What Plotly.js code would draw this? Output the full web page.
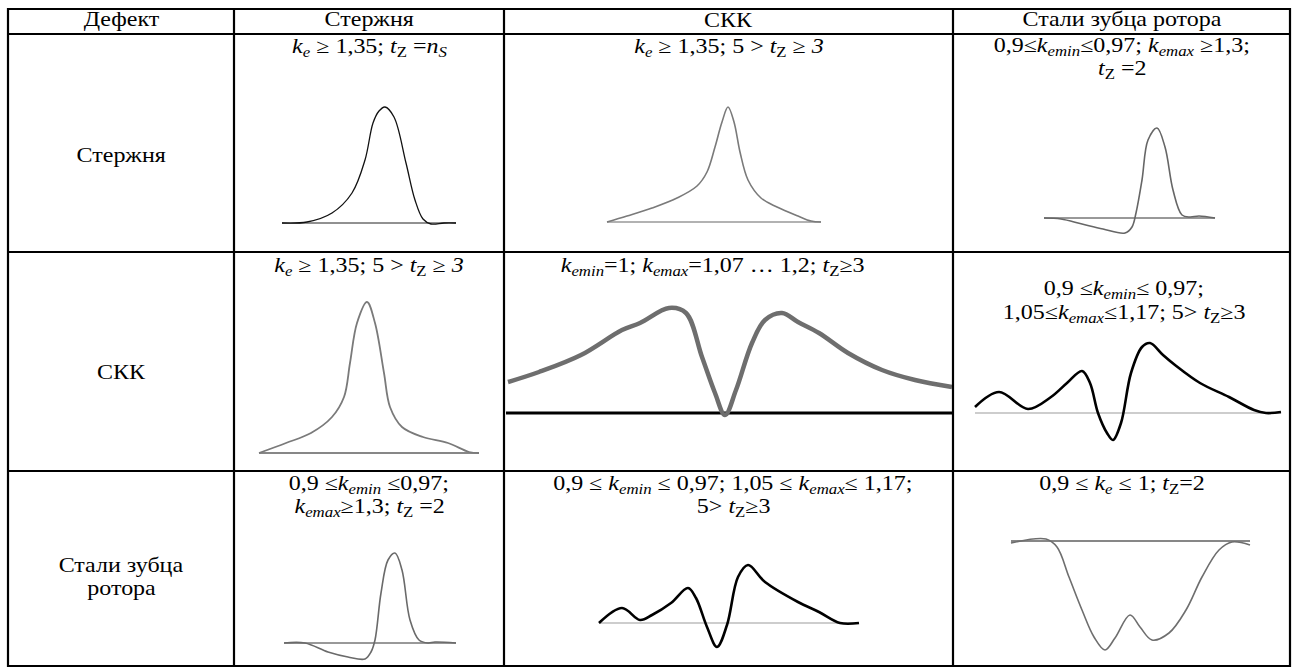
<!DOCTYPE html>
<html>
<head>
<meta charset="utf-8">
<script src="https://cdn.plot.ly/plotly-3.0.1.min.js"></script>
<style>html,body{margin:0;padding:0;background:#fff;}#chart{width:1294px;height:670px;}</style>
</head>
<body>
<div id="chart"></div>
<script>
// ---- table text ----
const colHeaders = ['Дефект', 'Стержня', 'СКК', 'Стали зубца ротора'];
const rowLabels = [['Стержня'], ['СКК'], ['Стали зубца', 'ротора']];
// condition text of each cell, one entry per line
const conditions = [
  [['<i>k<sub>e</sub></i> ≥ 1,35; <i>t</i><sub>Z</sub> =<i>n<sub>S</sub></i>'],
   ['<i>k<sub>e</sub></i> ≥ 1,35; 5 &gt; <i>t</i><sub>Z</sub> ≥ <i>3</i>'],
   ['0,9≤<i>k<sub>emin</sub></i>≤0,97; <i>k<sub>emax</sub></i> ≥1,3;', '<i>t</i><sub>Z</sub> =2']],
  [['<i>k<sub>e</sub></i> ≥ 1,35; 5 &gt; <i>t</i><sub>Z</sub> ≥ <i>3</i>'],
   ['<i>k<sub>emin</sub></i>=1; <i>k<sub>emax</sub></i>=1,07 … 1,2; <i>t</i><sub>Z</sub>≥3'],
   ['0,9 ≤<i>k<sub>emin</sub></i>≤ 0,97;', '1,05≤<i>k<sub>emax</sub></i>≤1,17; 5&gt; <i>t</i><sub>Z</sub>≥3']],
  [['0,9 ≤<i>k<sub>emin</sub></i> ≤0,97;', '<i>k<sub>emax</sub></i>≥1,3; <i>t</i><sub>Z</sub> =2'],
   ['0,9 ≤ <i>k<sub>emin</sub></i> ≤ 0,97; 1,05 ≤ <i>k<sub>emax</sub></i>≤ 1,17;', '5&gt; <i>t</i><sub>Z</sub>≥3'],
   ['0,9 ≤ <i>k<sub>e</sub></i> ≤ 1; <i>t</i><sub>Z</sub>=2']]
];

// ---- waveform data (x: along the trace, y: height above baseline) ----
const w11x = [0, 25, 50, 70, 83, 91, 97, 103, 112, 124, 133, 141, 149, 162, 174];
const w11y = [0, 1, 10, 30, 63, 100, 112, 116, 106, 60, 23, 4, -1, 0, 0];

const w12x = [0, 20, 45, 70, 90, 100, 108, 115, 121, 127, 133, 141, 154, 170, 191, 204, 214];
const w12y = [0, 6, 14, 24, 36, 50, 75, 100, 115, 100, 70, 42, 24, 15, 6, 1, 0];

const w13x = [0, 17, 38, 59, 81, 88, 92, 98, 104, 113, 121, 129, 138, 146, 155, 171];
const w13y = [0, -1, -6, -11, -15, -9, 5, 38, 78, 90, 71, 28, 3, 1, 2, 0];

const w21x = [0, 27, 52, 73, 85, 91, 98, 108, 116, 125, 131, 143, 164, 189, 210, 220];
const w21y = [0, 10, 20, 36, 56, 90, 130, 151, 130, 80, 46, 26, 16, 10, 1, 0];

const w22x = [2, 33, 75, 116, 134, 163, 180, 196, 209, 219, 230, 246, 259, 276, 292, 313, 342, 376, 409, 446];
const w22y = [31, 41, 58, 83, 90, 105, 100, 56, 20, -2, 23, 70, 93, 100, 91, 80, 60, 43, 33, 26];

const w23x = [0, 24, 53, 76, 92, 107, 115, 123, 132, 138, 146, 156, 167, 175, 188, 200, 225, 254, 279, 291, 306];
const w23y = [6, 21, 4, 16, 30, 42, 30, 0, -20, -27, -10, 40, 66, 70, 58, 48, 30, 16, 3, 0, 1];

const w31x = [0, 21, 44, 64, 81, 87, 91, 97, 104, 111, 118, 126, 135, 144, 151, 172];
const w31y = [0, 0, -9, -14, -16, -9, 3, 50, 83, 90, 73, 23, 3, 0, 1, 0];

const w32x = [0, 23, 41, 53, 72, 89, 97, 108, 118, 128, 139, 149, 166, 199, 220, 241, 260];
const w32y = [0, 15, 3, 8, 20, 35, 25, -4, -24, -2, 46, 58, 41, 21, 11, 0, 0];

const w33x = [0, 35, 46, 58, 71, 83, 94, 104, 119, 129, 141, 158, 175, 191, 208, 221, 239];
const w33y = [-2, 2, -6, -36, -69, -96, -109, -97, -74, -86, -99, -92, -69, -36, -9, -1, -4];

// ---- layout geometry (pixels) ----
const W = 1294, H = 670;
const colEdges = [8, 234, 504, 953, 1290];
const rowEdges = [9, 34, 252, 471, 666];
const FONT = 'Liberation Serif';
const FSIZE = 20;
const STRETCH = 1.2;   // the reference text is set horizontally wide

const boxes = [
  {data: [w11x, w11y], left: 282, base: 223, color: '#111', width: 1.3, baseColor: '#222', baseWidth: 1},
  {data: [w12x, w12y], left: 607, base: 222, color: '#7a7a7a', width: 1.6, baseColor: '#666', baseWidth: 1.2},
  {data: [w13x, w13y], left: 1044, base: 218, color: '#666', width: 1.6, baseColor: '#333', baseWidth: 1},
  {data: [w21x, w21y], left: 259, base: 453, color: '#7a7a7a', width: 1.8, baseColor: '#111', baseWidth: 1.2},
  {data: [w22x, w22y], left: 506, base: 413, color: '#6e6e6e', width: 4.5, baseColor: '#000', baseWidth: 3, baseFrom: 0, baseTo: 447},
  {data: [w23x, w23y], left: 975, base: 413, color: '#000', width: 2.6, baseColor: '#bdbdbd', baseWidth: 1.5},
  {data: [w31x, w31y], left: 284, base: 643, color: '#6a6a6a', width: 1.6, baseColor: '#333', baseWidth: 1},
  {data: [w32x, w32y], left: 599, base: 623, color: '#000', width: 2.6, baseColor: '#bdbdbd', baseWidth: 1.5},
  {data: [w33x, w33y], left: 1011, base: 541, color: '#6e6e6e', width: 1.6, baseColor: '#111', baseWidth: 1.2}
];

const traces = [];
const layout = {
  width: W, height: H,
  margin: {l: 0, r: 0, t: 0, b: 0},
  paper_bgcolor: '#fff', plot_bgcolor: 'rgba(0,0,0,0)',
  showlegend: false,
  font: {family: FONT, size: FSIZE, color: '#000'},
  shapes: [], annotations: []
};

const PAD = 6;
boxes.forEach((b, i) => {
  const xs = b.data[0], ys = b.data[1];
  const n = i + 1;
  const xa = n === 1 ? 'x' : 'x' + n, ya = n === 1 ? 'y' : 'y' + n;
  const xmin = Math.min(...xs), xmax = Math.max(...xs);
  const bf = b.baseFrom !== undefined ? b.baseFrom : xmin;
  const bt = b.baseTo !== undefined ? b.baseTo : xmax;
  const lo = Math.min(0, ...ys) - PAD, hi = Math.max(0, ...ys) + PAD;
  const x0 = Math.min(xmin, bf) - PAD, x1 = Math.max(xmax, bt) + PAD;
  traces.push({x: [bf, bt], y: [0, 0], xaxis: xa, yaxis: ya, mode: 'lines',
    line: {color: b.baseColor, width: b.baseWidth}, hoverinfo: 'skip'});
  traces.push({x: xs, y: ys, xaxis: xa, yaxis: ya, mode: 'lines',
    line: {color: b.color, width: b.width, shape: 'spline', smoothing: 1}, hoverinfo: 'skip'});
  const ax = {visible: false, fixedrange: true};
  layout['xaxis' + (n === 1 ? '' : n)] = Object.assign({}, ax, {
    range: [x0, x1], domain: [(b.left + x0) / W, (b.left + x1) / W], anchor: ya});
  layout['yaxis' + (n === 1 ? '' : n)] = Object.assign({}, ax, {
    range: [lo, hi], domain: [1 - (b.base - lo) / H, 1 - (b.base - hi) / H], anchor: xa});
});

const LW = 2.2;
rowEdges.forEach(y => layout.shapes.push({type: 'line', xref: 'paper', yref: 'paper',
  x0: (colEdges[0] - 1) / W, x1: (colEdges[4] + 1) / W, y0: 1 - y / H, y1: 1 - y / H,
  line: {color: '#000', width: LW}}));
colEdges.forEach(x => layout.shapes.push({type: 'line', xref: 'paper', yref: 'paper',
  x0: x / W, x1: x / W, y0: 1 - (rowEdges[0] - 1) / H, y1: 1 - (rowEdges[4] + 1) / H,
  line: {color: '#000', width: LW}}));

function ann(text, px, py) {
  layout.annotations.push({text: text, xref: 'paper', yref: 'paper', x: px / W, y: 1 - py / H,
    xanchor: 'center', yanchor: 'middle', showarrow: false,
    font: {family: FONT, size: FSIZE, color: '#000'}});
}
const LINE = 23;
function annLines(lines, px, pyFirst) {
  lines.forEach((t, k) => ann(t, px, pyFirst + k * LINE));
}
const colCenters = [0, 1, 2, 3].map(i => (colEdges[i] + colEdges[i + 1]) / 2);
colHeaders.forEach((t, i) => ann(t, colCenters[i], 20));
const labelY = [156, 372, 565];
rowLabels.forEach((lines, i) => annLines(lines, colCenters[0], labelY[i]));
const condX = [[colCenters[1], colCenters[2], colCenters[3]],
               [colCenters[1], 712, 1124],
               [colCenters[1], 733, colCenters[3]]];
const condY = [[48, 48, 46], [266, 266, 290], [484, 484, 484]];
conditions.forEach((row, r) => row.forEach((lines, c) => annLines(lines, condX[r][c], condY[r][c])));

Plotly.newPlot('chart', traces, layout, {staticPlot: true, displayModeBar: false}).then(gd => {
  gd.querySelectorAll('.annotation-text').forEach(t => {
    const bb = t.getBBox();
    const cx = bb.x + bb.width / 2;
    t.setAttribute('transform', 'translate(' + cx + ',0) scale(' + STRETCH + ',1) translate(' + (-cx) + ',0)');
  });
});
</script>
</body>
</html>
